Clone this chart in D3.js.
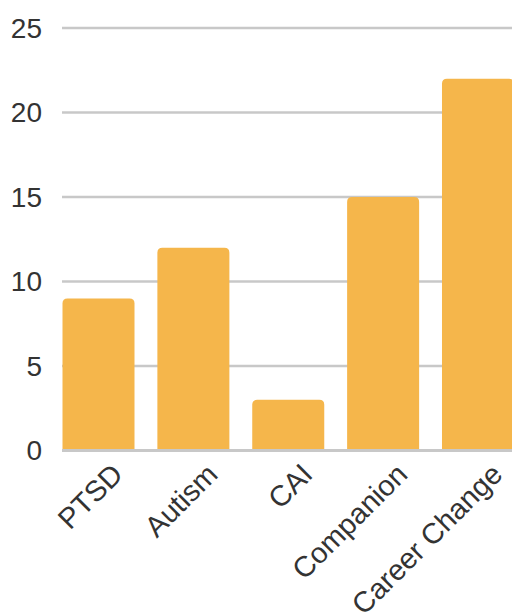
<!DOCTYPE html>
<html><head><meta charset="utf-8">
<script src="https://cdn.jsdelivr.net/npm/d3@7"></script>
<style>html,body{margin:0;padding:0;background:#fff;overflow:hidden}</style>
</head><body>
<svg id="chart" width="512" height="614"></svg>
<script>
const categories = ["PTSD", "Autism", "CAI", "Companion", "Career Change"];
const values = [9, 12, 3, 15, 22];
const yTicks = [0, 5, 10, 15, 20, 25];

const svg = d3.select("#chart");
const x = d3.scaleBand().domain(categories).range([62.5, 514]).paddingInner(0.241).paddingOuter(0);
const y = d3.scaleLinear().domain([0, 25]).range([450.5, 28]);

const font = "'Liberation Sans', Arial, sans-serif";

// gridlines
svg.append("g").selectAll("line").data(yTicks.filter(d => d !== 0)).join("line")
  .attr("x1", 62).attr("x2", 530)
  .attr("y1", d => y(d)).attr("y2", d => y(d))
  .attr("stroke", "#c8c8c8").attr("stroke-width", 2.5);

// bars with rounded tops
const r = 5;
svg.append("g").selectAll("path").data(values).join("path")
  .attr("d", (v, i) => {
    const x0 = x(categories[i]), w = x.bandwidth(), y0 = y(v), yb = y(0);
    return `M${x0},${yb}V${y0 + r}Q${x0},${y0} ${x0 + r},${y0}H${x0 + w - r}Q${x0 + w},${y0} ${x0 + w},${y0 + r}V${yb}Z`;
  })
  .attr("fill", "#f5b64b");

// baseline
svg.append("line").attr("x1", 62).attr("x2", 530)
  .attr("y1", y(0)).attr("y2", y(0))
  .attr("stroke", "#c8c8c8").attr("stroke-width", 3);

// y labels
svg.append("g").selectAll("text").data(yTicks).join("text")
  .attr("x", 42).attr("y", d => y(d))
  .attr("text-anchor", "end").attr("dominant-baseline", "central")
  .attr("font-family", font).attr("font-size", 28).attr("fill", "#333")
  .text(d => d);

// x labels
svg.append("g").selectAll("text").data(categories).join("text")
  .attr("transform", d => `translate(${x(d) + x.bandwidth() / 2 + 19},${469}) rotate(-45)`)
  .attr("text-anchor", "end").attr("dominant-baseline", "central")
  .attr("font-family", font).attr("font-size", 29).attr("fill", "#333")
  .text(d => d);
</script>
</body></html>
